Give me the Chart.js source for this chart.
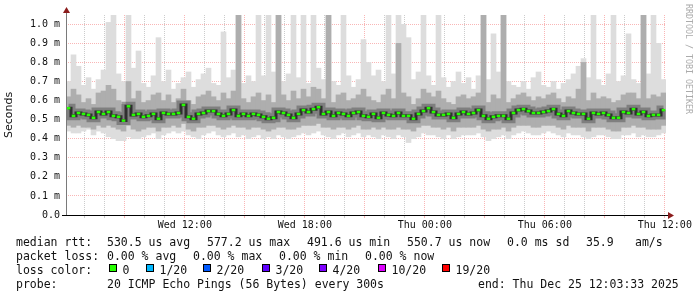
<!DOCTYPE html>
<html>
<head>
<meta charset="utf-8">
<title>smokeping</title>
<script src="https://cdn.jsdelivr.net/npm/chart.js"></script>
<style>
    html, body { margin: 0; padding: 0; background: #ffffff; }
    canvas { display: block; }
</style>
</head>
<body>
<canvas id="smokeChart" width="697" height="297"></canvas>
<script>
'use strict';

// time axis: hours counted from Wed 00:00, one sample every 15 minutes
var startHour = 6 + 3.55 / 60;      // Wed 06:03:33
var stepHours = 0.25;
var labelHours = [12, 18, 24, 30, 36];
var timeLabels = ['Wed 12:00', 'Wed 18:00', 'Thu 00:00', 'Thu 06:00', 'Thu 12:00'];
var yTicks = [0, 0.1, 0.2, 0.3, 0.4, 0.5, 0.6, 0.7, 0.8, 0.9, 1.0];

// median rtt (ms)
var rttMedian = [
    0.560, 0.520, 0.535, 0.530, 0.525, 0.510, 0.540, 0.530, 0.540, 0.520,
    0.515, 0.495, 0.570, 0.525, 0.530, 0.515, 0.520, 0.530, 0.505, 0.535,
    0.530, 0.530, 0.535, 0.577, 0.515, 0.505, 0.530, 0.535, 0.545, 0.545,
    0.530, 0.520, 0.530, 0.550, 0.520, 0.530, 0.520, 0.530, 0.525, 0.515,
    0.505, 0.510, 0.540, 0.535, 0.525, 0.510, 0.530, 0.550, 0.540, 0.555,
    0.565, 0.530, 0.540, 0.520, 0.535, 0.530, 0.520, 0.535, 0.540, 0.520,
    0.515, 0.530, 0.510, 0.535, 0.525, 0.520, 0.535, 0.520, 0.520, 0.505,
    0.530, 0.545, 0.560, 0.540, 0.525, 0.525, 0.530, 0.510, 0.530, 0.540,
    0.530, 0.535, 0.550, 0.520, 0.505, 0.515, 0.520, 0.520, 0.505, 0.535,
    0.550, 0.555, 0.545, 0.535, 0.535, 0.540, 0.545, 0.555, 0.530, 0.520,
    0.545, 0.535, 0.530, 0.530, 0.505, 0.535, 0.530, 0.535, 0.525, 0.510,
    0.510, 0.540, 0.535, 0.555, 0.530, 0.540, 0.520, 0.525, 0.525, 0.550
];

// slowest ping of each sample
var rttMax = [
    0.70, 0.84, 0.78, 0.68, 0.72, 0.66, 0.71, 0.76, 1.01, 1.05,
    0.74, 0.70, 1.05, 0.77, 0.86, 0.69, 0.67, 0.73, 0.93, 0.70,
    0.76, 0.66, 0.69, 0.72, 0.75, 0.67, 0.71, 0.74, 0.77, 0.69,
    0.68, 0.96, 0.72, 0.76, 1.05, 0.69, 0.73, 0.70, 1.05, 0.73,
    1.05, 0.75, 1.05, 0.70, 0.74, 1.05, 0.72, 1.05, 0.69, 1.05,
    0.77, 0.71, 1.05, 0.70, 0.68, 1.05, 0.73, 0.67, 0.71, 0.92,
    0.80, 0.73, 0.76, 0.70, 1.05, 0.74, 1.05, 1.00, 0.93, 0.71,
    0.75, 1.05, 0.73, 0.68, 1.05, 0.72, 0.67, 0.70, 0.75, 0.69,
    0.72, 0.66, 0.73, 1.05, 0.71, 0.95, 0.75, 1.05, 0.70, 0.68,
    0.67, 0.70, 0.66, 0.72, 0.75, 0.68, 0.67, 0.70, 0.66, 0.69,
    0.71, 0.74, 0.78, 0.82, 0.72, 1.05, 0.71, 0.68, 0.74, 1.05,
    0.70, 0.73, 0.95, 0.71, 0.69, 1.05, 0.74, 1.05, 0.90, 0.71
];

// fastest ping of each sample
var rttMin = [
    0.44, 0.43, 0.43, 0.44, 0.45, 0.42, 0.44, 0.43, 0.41, 0.40,
    0.39, 0.39, 0.41, 0.40, 0.40, 0.41, 0.42, 0.43, 0.40, 0.42,
    0.43, 0.44, 0.43, 0.44, 0.42, 0.41, 0.40, 0.42, 0.43, 0.44,
    0.42, 0.41, 0.42, 0.43, 0.41, 0.42, 0.40, 0.41, 0.42, 0.40,
    0.41, 0.40, 0.42, 0.41, 0.40, 0.41, 0.42, 0.43, 0.42, 0.43,
    0.44, 0.42, 0.41, 0.40, 0.42, 0.43, 0.41, 0.42, 0.43, 0.41,
    0.42, 0.41, 0.40, 0.42, 0.41, 0.40, 0.42, 0.41, 0.38, 0.40,
    0.41, 0.43, 0.42, 0.42, 0.41, 0.40, 0.42, 0.40, 0.41, 0.42,
    0.42, 0.42, 0.43, 0.41, 0.39, 0.40, 0.41, 0.42, 0.40, 0.42,
    0.43, 0.44, 0.43, 0.42, 0.42, 0.43, 0.44, 0.43, 0.42, 0.41,
    0.43, 0.42, 0.42, 0.41, 0.40, 0.41, 0.42, 0.42, 0.41, 0.40,
    0.40, 0.42, 0.42, 0.43, 0.41, 0.42, 0.41, 0.41, 0.42, 0.43
];

// inner smoke band (upper / lower quarter of the pings)
var rttUpper = [
    0.62, 0.66, 0.63, 0.59, 0.61, 0.58, 0.64, 0.65, 0.68, 0.66,
    0.60, 0.58, 0.70, 0.61, 0.65, 0.59, 0.60, 0.63, 0.64, 0.60,
    0.63, 0.59, 0.61, 0.66, 0.60, 0.58, 0.62, 0.63, 0.65, 0.62,
    0.60, 0.64, 0.61, 0.65, 1.05, 0.61, 0.59, 0.62, 0.64, 0.60,
    0.63, 0.59, 1.05, 0.63, 0.60, 0.65, 0.61, 0.66, 0.62, 0.67,
    0.66, 0.61, 1.05, 0.59, 0.63, 0.64, 0.60, 0.61, 0.63, 0.66,
    0.62, 0.60, 0.59, 0.63, 0.66, 0.61, 0.90, 0.64, 0.62, 0.58,
    0.61, 0.66, 0.64, 0.62, 0.65, 0.61, 0.59, 0.58, 0.62, 0.63,
    0.61, 0.62, 0.64, 1.05, 0.59, 0.63, 0.61, 1.05, 0.59, 0.61,
    0.63, 0.64, 0.62, 0.60, 0.62, 0.61, 0.63, 0.64, 0.61, 0.59,
    0.62, 0.61, 0.66, 0.80, 0.60, 0.64, 0.61, 0.62, 0.61, 0.59,
    0.60, 0.63, 0.64, 0.64, 0.61, 1.05, 0.61, 0.63, 0.62, 0.64
];
var rttLower = [
    0.47, 0.46, 0.47, 0.46, 0.46, 0.45, 0.47, 0.46, 0.47, 0.46,
    0.45, 0.44, 0.47, 0.45, 0.44, 0.45, 0.46, 0.46, 0.44, 0.46,
    0.46, 0.47, 0.46, 0.48, 0.45, 0.44, 0.46, 0.46, 0.47, 0.47,
    0.46, 0.45, 0.46, 0.47, 0.46, 0.46, 0.45, 0.46, 0.46, 0.45,
    0.44, 0.45, 0.46, 0.46, 0.45, 0.45, 0.46, 0.47, 0.47, 0.47,
    0.48, 0.46, 0.46, 0.45, 0.46, 0.46, 0.45, 0.46, 0.47, 0.45,
    0.45, 0.46, 0.45, 0.46, 0.45, 0.45, 0.46, 0.45, 0.45, 0.44,
    0.46, 0.47, 0.47, 0.46, 0.46, 0.45, 0.46, 0.44, 0.46, 0.46,
    0.46, 0.46, 0.47, 0.45, 0.44, 0.45, 0.45, 0.46, 0.44, 0.46,
    0.47, 0.47, 0.47, 0.46, 0.46, 0.47, 0.47, 0.47, 0.46, 0.45,
    0.47, 0.46, 0.46, 0.46, 0.44, 0.46, 0.46, 0.46, 0.45, 0.44,
    0.44, 0.46, 0.46, 0.47, 0.46, 0.46, 0.45, 0.45, 0.45, 0.47
];

// legend texts
var rttLegend = ['530.5 us avg', '577.2 us max', '491.6 us min', '550.7 us now', '0.0 ms sd', '35.9', 'am/s'];
var lossLegend = ['0.00 % avg', '0.00 % max', '0.00 % min', '0.00 % now'];
var lossLabels = ['0', '1/20', '2/20', '3/20', '4/20', '10/20', '19/20'];
var lossColors = ['#26ff00', '#00b8ff', '#0059ff', '#5e00ff', '#7e00ff', '#dd00ff', '#ff0000'];
var probeText = '20 ICMP Echo Pings (56 Bytes) every 300s';
var endText = 'end: Thu Dec 25 12:03:33 2025';

var colors = {
    smokeLight : '#dddddd',
    smokeMid   : '#aeaeae',
    smokeDark  : 'rgba(70, 70, 70, .45)',
    smokeCore  : 'rgba(20, 20, 20, .75)',
    grid       : 'rgba(143, 143, 143, .45)',
    mgrid      : 'rgba(240, 80, 80, .42)',
    axis       : '#000000',
    yAxis      : '#7a7a7a',
    arrow      : '#8b1c1c',
    font       : '#111111',
    watermark  : '#ababab'
};

var monoFont = "'DejaVu Sans Mono', monospace";

function toPoints(values) {
    return values.map(function(v, i) {
        return { x: startHour + (i + 0.5) * stepHours, y: v };
    });
}

function toRange(high, low) {
    return high.map(function(v, i) {
        return { x: startHour + (i + 0.5) * stepHours, y: [low[i], v] };
    });
}

var gridHours = [];
for (var h = Math.ceil(startHour); h <= startHour + rttMedian.length * stepHours; h++) {
    gridHours.push(h);
}

// rrdtool frame, arrows, watermark and legend start
var rrdDecor = {
    id: 'rrdDecor',
    afterDraw: function(chart) {
        var ctx = chart.ctx;
        var area = chart.chartArea;
        ctx.save();

        // y axis
        ctx.strokeStyle = colors.yAxis;
        ctx.lineWidth = 1;
        ctx.beginPath();
        ctx.moveTo(area.left + 0.5, area.bottom);
        ctx.lineTo(area.left + 0.5, area.top - 2);
        ctx.stroke();

        // x axis
        ctx.strokeStyle = colors.axis;
        ctx.beginPath();
        ctx.moveTo(area.left - 4, area.bottom + 0.5);
        ctx.lineTo(area.right + 2, area.bottom + 0.5);
        ctx.stroke();

        // arrows
        ctx.fillStyle = colors.arrow;
        ctx.beginPath();
        ctx.moveTo(area.left - 3, area.top - 2);
        ctx.lineTo(area.left + 4, area.top - 2);
        ctx.lineTo(area.left + 0.5, area.top - 8);
        ctx.closePath();
        ctx.fill();
        ctx.beginPath();
        ctx.moveTo(area.right + 2, area.bottom - 3);
        ctx.lineTo(area.right + 2, area.bottom + 4);
        ctx.lineTo(area.right + 8, area.bottom + 0.5);
        ctx.closePath();
        ctx.fill();

        // watermark
        ctx.save();
        ctx.translate(688, 4);
        ctx.rotate(Math.PI / 2);
        ctx.font = '8.3px ' + monoFont;
        ctx.fillStyle = colors.watermark;
        ctx.textBaseline = 'middle';
        ctx.textAlign = 'left';
        ctx.fillText('RRDTOOL / TOBI OETIKER', 0, 0);
        ctx.restore();

        // legend
        ctx.font = '11.5px ' + monoFont;
        ctx.fillStyle = colors.font;
        ctx.textBaseline = 'alphabetic';
        ctx.textAlign = 'left';

        var rows = [245.5, 259.8, 274.1, 288.4];
        var rttX = [107, 207, 307, 407, 507, 586, 635];
        var lossX = [107, 193, 279, 365];
        var boxX = [109, 146, 203, 262, 319, 378, 442];

        ctx.fillText('median rtt:', 16, rows[0]);
        rttLegend.forEach(function(t, i) { ctx.fillText(t, rttX[i], rows[0]); });

        ctx.fillText('packet loss:', 16, rows[1]);
        lossLegend.forEach(function(t, i) { ctx.fillText(t, lossX[i], rows[1]); });

        ctx.fillText('loss color:', 16, rows[2]);
        lossLabels.forEach(function(t, i) {
            ctx.fillStyle = lossColors[i];
            ctx.fillRect(boxX[i] + 0.5, 264.5, 7, 7);
            ctx.strokeStyle = '#000000';
            ctx.strokeRect(boxX[i] + 0.5, 264.5, 7, 7);
            ctx.fillStyle = colors.font;
            ctx.fillText(t, boxX[i] + 13.5, rows[2]);
        });

        ctx.fillText('probe:', 16, rows[3]);
        ctx.fillText(probeText, 107, rows[3]);
        ctx.fillText(endText, 478, rows[3]);

        ctx.restore();
    }
};
// rrdtool frame, arrows, watermark and legend end

// smokeChart start
new Chart(document.getElementById('smokeChart'), {
    type: 'bar',
    data: {
        datasets: [{
            type: 'line',
            data: toPoints(rttMedian),
            showLine: false,
            pointStyle: 'line',
            pointRadius: 1.8,
            pointBorderWidth: 2.5,
            pointBorderColor: lossColors[0],
            pointBackgroundColor: lossColors[0],
            order: 0
        }, {
            type: 'line',
            data: toPoints(rttMedian),
            stepped: 'middle',
            borderColor: colors.smokeCore,
            borderWidth: 3,
            pointRadius: 0,
            order: 1
        }, {
            type: 'line',
            data: toPoints(rttMedian),
            stepped: 'middle',
            borderColor: colors.smokeDark,
            borderWidth: 9,
            pointRadius: 0,
            order: 2
        }, {
            data: toRange(rttUpper, rttLower),
            backgroundColor: colors.smokeMid,
            order: 3
        }, {
            data: toRange(rttMax, rttMin),
            backgroundColor: colors.smokeLight,
            order: 4
        }]
    },
    options: {
        responsive: false,
        devicePixelRatio: 1,
        animation: false,
        events: [],
        layout: {
            padding: { left: 0, right: 31, top: 15, bottom: 62 }
        },
        datasets: {
            bar: {
                grouped: false,
                barPercentage: 1,
                categoryPercentage: 1,
                borderWidth: 0
            }
        },
        plugins: {
            legend: { display: false },
            tooltip: { enabled: false }
        },
        scales: {
            x: {
                type: 'linear',
                min: startHour,
                max: startHour + rttMedian.length * stepHours,
                offset: false,
                z: 1,
                afterBuildTicks: function(scale) {
                    scale.ticks = gridHours.map(function(v) { return { value: v }; });
                },
                afterFit: function(scale) {
                    scale.height = 20;
                },
                grid: {
                    offset: false,
                    drawTicks: true,
                    tickLength: 3,
                    color: function(c) {
                        return c.tick && c.tick.value % 3 === 0 ? colors.mgrid : colors.grid;
                    },
                    tickColor: function(c) {
                        return c.tick && c.tick.value % 3 === 0 ? colors.mgrid : colors.grid;
                    }
                },
                border: { display: false, dash: [1, 1] },
                ticks: {
                    autoSkip: false,
                    maxRotation: 0,
                    padding: 1,
                    color: colors.font,
                    font: { family: monoFont, size: 10 },
                    callback: function(value) {
                        var k = labelHours.indexOf(value);
                        return k >= 0 ? timeLabels[k] : '';
                    }
                }
            },
            y: {
                min: 0,
                max: 1.0488,
                z: 1,
                afterBuildTicks: function(scale) {
                    scale.ticks = yTicks.map(function(v) { return { value: v }; });
                },
                afterFit: function(scale) {
                    scale.width = 66;
                },
                grid: {
                    drawTicks: false,
                    color: colors.mgrid
                },
                border: { display: false, dash: [1, 1] },
                ticks: {
                    padding: 6,
                    color: colors.font,
                    font: { family: monoFont, size: 10 },
                    callback: function(value) {
                        return value === 0 ? '0.0' : value.toFixed(1) + ' m';
                    }
                },
                title: {
                    display: true,
                    text: 'Seconds',
                    color: colors.font,
                    font: { family: "'DejaVu Sans', sans-serif", size: 11 },
                    padding: { top: 3, bottom: 0 }
                }
            }
        }
    },
    plugins: [rrdDecor]
});
// smokeChart end
</script>
</body>
</html>
